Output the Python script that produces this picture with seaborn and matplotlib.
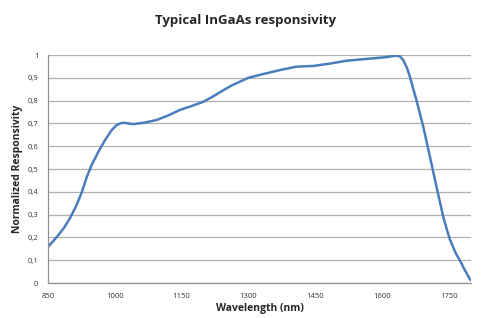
import numpy as np
import pandas as pd
import matplotlib
matplotlib.use('Agg')
import matplotlib.pyplot as plt
import seaborn as sns

# valeurs
wavelength = [850, 862, 873, 886, 899, 914, 926, 937, 948, 963, 978, 993, 1004, 1012, 1019,
              1030, 1042, 1065, 1094, 1120, 1146, 1172, 1199, 1222, 1244, 1262, 1281, 1300,
              1330, 1371, 1408, 1446, 1485, 1521, 1560, 1596, 1615, 1629, 1640, 1648, 1656,
              1663, 1670, 1678, 1693, 1708, 1723, 1738, 1746, 1753, 1765, 1775, 1787, 1797, 1800]
responsivity = [0.159, 0.185, 0.21, 0.243, 0.284, 0.342, 0.40, 0.466, 0.518, 0.576, 0.627,
                0.671, 0.693, 0.70, 0.703, 0.70, 0.697, 0.703, 0.715, 0.735, 0.759, 0.776,
                0.795, 0.82, 0.846, 0.866, 0.883, 0.90, 0.915, 0.934, 0.949, 0.952, 0.963,
                0.975, 0.982, 0.988, 0.992, 0.997, 0.995, 0.978, 0.945, 0.905, 0.855, 0.80,
                0.686, 0.554, 0.42, 0.29, 0.235, 0.19, 0.135, 0.10, 0.055, 0.02, 0.012]
x_ticks = [850, 1000, 1150, 1300, 1450, 1600, 1750]
y_ticks = [0, 0.1, 0.2, 0.3, 0.4, 0.5, 0.6, 0.7, 0.8, 0.9, 1.0]
y_labels = ['0', '0,1', '0,2', '0,3', '0,4', '0,5', '0,6', '0,7', '0,8', '0,9', '1']

df = pd.DataFrame({'wl': wavelength, 'resp': responsivity})

sns.set_style('white')
plt.rcParams['font.family'] = ['Open Sans', 'DejaVu Sans']

fig = plt.figure(figsize=(4.91, 3.18), dpi=100)
ax = fig.add_axes([0.098, 0.110, 0.861, 0.717])

sns.lineplot(data=df, x='wl', y='resp', ax=ax, color='#4a7ebb', linewidth=1.8)

ax.set_xlim(850, 1800)
ax.set_ylim(0, 1)
ax.set_xticks(x_ticks)
ax.set_xticklabels([str(t) for t in x_ticks], fontsize=5.5, color='#333333')
ax.set_yticks(y_ticks)
ax.set_yticklabels(y_labels, fontsize=5.5, color='#333333')
ax.yaxis.grid(True, color='#b0b0b0', linewidth=0.9)
ax.xaxis.grid(False)
ax.tick_params(axis='x', length=3, width=0.8, color='#909090', pad=4)
ax.tick_params(axis='y', length=3, width=0.8, color='#909090', pad=4)

for s in ['top', 'right']:
    ax.spines[s].set_visible(False)
for s in ['left', 'bottom']:
    ax.spines[s].set_color('#909090')
    ax.spines[s].set_linewidth(0.9)

ax.set_xlabel('Wavelength (nm)', fontsize=7.5, fontweight='bold', labelpad=2)
ax.set_ylabel('Normalized Responsivity', fontsize=7.5, fontweight='bold', labelpad=3)
fig.suptitle('Typical InGaAs responsivity', fontsize=9.5, fontweight='bold', y=0.955)

fig.savefig('out.png', dpi=100)
